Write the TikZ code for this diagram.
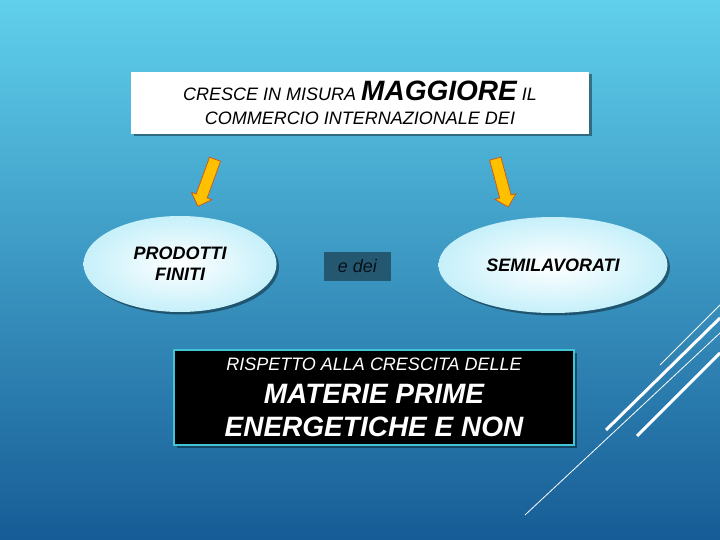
\documentclass[tikz,border=0pt]{standalone}
\usepackage{fontspec}
\setmainfont{Liberation Sans}
\usepackage{tikz}
\usetikzlibrary{positioning,shapes.geometric,shapes.arrows,shadows}
\definecolor{skytop}{RGB}{96,208,236}
\definecolor{skymid}{RGB}{58,163,208}
\definecolor{skybot}{RGB}{22,92,150}
\definecolor{arrowgold}{RGB}{255,192,0}
\definecolor{arroworange}{RGB}{204,84,20}
\definecolor{ovaledge}{RGB}{198,240,250}
\definecolor{deibox}{RGB}{35,88,112}
\definecolor{deitext}{RGB}{8,16,26}
\definecolor{framecyan}{RGB}{64,196,214}
\tikzset{every picture/.style={line width=0.8pt}}

\begin{document}
\begin{tikzpicture}[x=1pt, y=-1pt,
    softshadow/.style={drop shadow={shadow xshift=2.5pt, shadow yshift=-2.5pt, fill=black, opacity=0.4}},
    oval/.style={ellipse, inner color=white, outer color=ovaledge, softshadow, minimum height=96pt, align=center, font=\fontsize{18}{21}\selectfont\bfseries\itshape},
    goldarrow/.style={single arrow, draw=arroworange, fill=arrowgold, line width=0.7pt, minimum height=50pt, minimum width=21pt, inner sep=5.5pt, single arrow head extend=5pt},
    thinstripe/.style={draw=white, line width=0.8pt},
    thickstripe/.style={draw=white, line width=3pt}]
    % Background
\useasboundingbox (0,0) rectangle (720,540);
\shade[top color=skytop, middle color=skymid, bottom color=skybot] (0,0) rectangle (720,540);

    % Heading box
\node[fill=white, minimum width=458pt, minimum height=62pt, align=center, softshadow, font=\fontsize{18}{24}\selectfont\itshape] (heading) at (360,103) {CRESCE IN MISURA {\fontsize{28}{24}\selectfont\bfseries MAGGIORE} IL\\COMMERCIO INTERNAZIONALE DEI};

    % Two ovals and the link between them
\node[oval, minimum width=193pt] (finiti) at (180,264) {PRODOTTI\\FINITI};
\node[oval, minimum width=229pt] (semi) at (553,265) {SEMILAVORATI};
\node[fill=deibox, text=deitext, minimum width=67pt, minimum height=29pt, inner sep=0pt, font=\fontsize{18}{21}\selectfont\itshape] (edei) at (357.5,266.5) {e dei};

    % Block arrows
    \node[goldarrow, rotate=250] (arrowL) at (207.5,180) {};
    \node[goldarrow, rotate=285] (arrowR) at (501,180) {};

    % Bottom box
\node[draw=framecyan, line width=2.5pt, fill=black, text=white, minimum width=400pt, minimum height=95pt, align=center, softshadow, font=\fontsize{28}{33}\selectfont\bfseries\itshape] (materie) at (374,397.5) {{\fontsize{18}{33}\selectfont\mdseries RISPETTO ALLA CRESCITA DELLE}\\MATERIE PRIME\\ENERGETICHE E NON};

    % Stripes
    \draw[thinstripe] (660,365) -- (720,305);
    \draw[thickstripe] (606,430) -- (720,318);
    \draw[thinstripe] (525,515) -- (720,333);
    \draw[thickstripe] (637,436) -- (720,353);
\end{tikzpicture}
\end{document}
